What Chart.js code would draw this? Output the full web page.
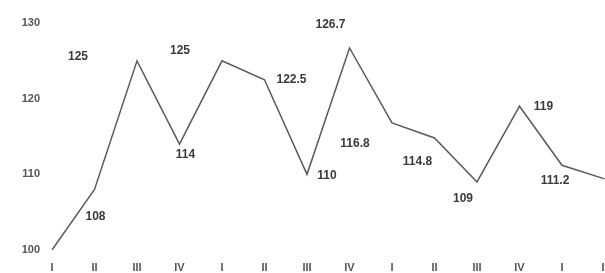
<!DOCTYPE html>
<html>
<head>
<meta charset="utf-8">
<script src="https://cdn.jsdelivr.net/npm/chart.js@4/dist/chart.umd.min.js"></script>
<style>
  html, body { margin: 0; padding: 0; background: #fff; overflow: hidden; }
  #wrap { width: 620px; height: 273px; }
</style>
</head>
<body>
<div id="wrap"><canvas id="myChart" width="620" height="273"></canvas></div>
<script>
// quarters
const quarters = ['I', 'II', 'III', 'IV', 'I', 'II', 'III', 'IV', 'I', 'II', 'III', 'IV', 'I', 'II'];
// index values
const values = [100, 108, 125, 114, 125, 122.5, 110, 126.7, 116.8, 114.8, 109, 119, 111.2, 109.4];
// value labels written next to points ('' = none)
const pointLabels = ['', '108', '125', '114', '125', '122.5', '110', '126.7', '116.8', '114.8', '109', '119', '111.2', ''];
const yTicks = [100, 110, 120, 130];

// where each label sits relative to its point
const labelOffsets = [[0, 0], [1, 27], [-59, -4], [6, 11], [-42, -10], [27, 0], [20, 1], [-19, -23],
                      [-37, 21], [-17, 24], [-14, 17], [24, 0], [-7, 15], [0, 0]];

const FONT = '"Liberation Sans", Arial, sans-serif';

const valueLabels = {
    id: 'valueLabels',
    afterDatasetsDraw(chart) {
        const ctx = chart.ctx;
        const meta = chart.getDatasetMeta(0);
        ctx.save();
        ctx.font = 'bold 12px ' + FONT;
        ctx.fillStyle = '#3a3a3a';
        ctx.textAlign = 'center';
        ctx.textBaseline = 'middle';
        meta.data.forEach(function (pt, i) {
            if (!pointLabels[i]) return;
            ctx.fillText(pointLabels[i], pt.x + labelOffsets[i][0], pt.y + labelOffsets[i][1]);
        });
        ctx.restore();
    }
};

const ctx = document.getElementById('myChart');
var mychart = new Chart(ctx, {
    type: 'line',
    data: {
        labels: quarters,
        datasets: [{
            data: values,
            borderColor: '#5a5a5a',
            borderWidth: 1.5,
            pointRadius: 0,
            tension: 0,
            fill: false
        }]
    },
    options: {
        responsive: false,
        animation: false,
        layout: { padding: { top: 23, right: 15.5, left: 0, bottom: 0 } },
        plugins: {
            legend: { display: false },
            tooltip: { enabled: false }
        },
        scales: {
            x: {
                grid: { display: false, drawTicks: false },
                border: { display: false },
                ticks: {
                    color: '#555',
                    font: { family: FONT, size: 11, weight: 'bold' },
                    padding: 11,
                    maxRotation: 0,
                    autoSkip: false
                },
                afterFit(axis) { axis.height = 23; }
            },
            y: {
                min: 100,
                max: 130,
                grid: { display: false, drawTicks: false },
                border: { display: false },
                afterBuildTicks(axis) { axis.ticks = yTicks.map(v => ({ value: v })); },
                ticks: {
                    color: '#555',
                    font: { family: FONT, size: 11, weight: 'bold' },
                    padding: 12
                },
                afterFit(axis) { axis.width = 52; }
            }
        }
    },
    plugins: [valueLabels]
});
</script>
</body>
</html>
